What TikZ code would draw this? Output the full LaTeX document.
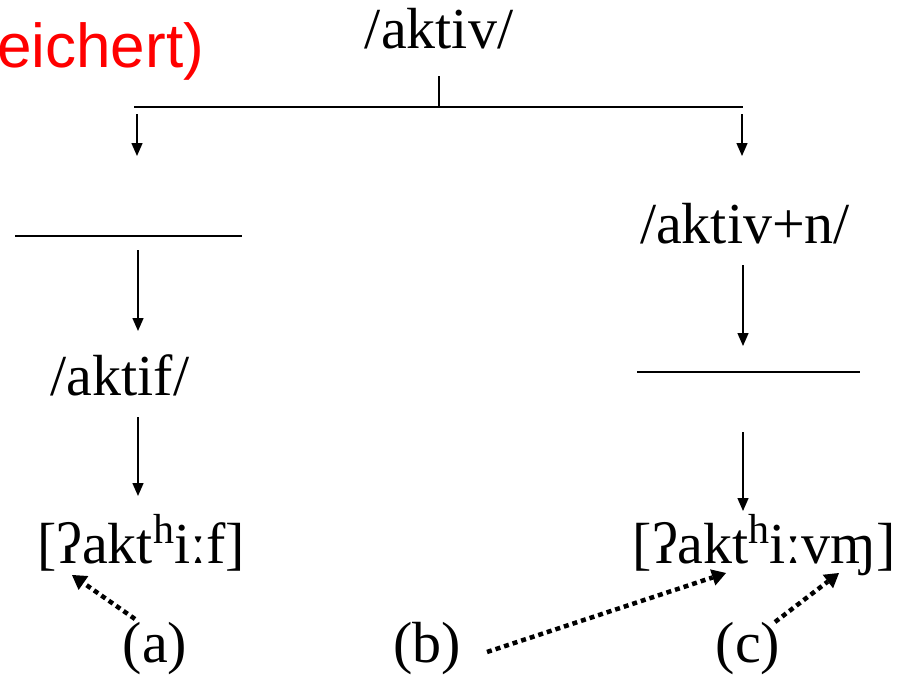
\documentclass[tikz,border=0pt]{standalone}
\usepackage{fontspec}
\setmainfont{Liberation Serif}
\newfontfamily\arialfont{Liberation Sans}
\usetikzlibrary{arrows.meta}
\definecolor{redtxt}{RGB}{255,0,0}
\newcommand{\asp}{\raisebox{0.34em}{\fontsize{42}{42}\selectfont h}}
\tikzset{
  lbl/.style={anchor=base, inner sep=0pt, font=\fontsize{58}{70}\selectfont},
  rline/.style={line width=2pt},
  darrow/.style={line width=1.4pt, -{Triangle[length=13pt,width=11pt]}},
  plainline/.style={line width=1.4pt},
  dotarrow/.style={line width=4.5pt, dash pattern=on 5pt off 4pt, -{Triangle[length=14pt,width=17pt,line width=0pt]}}
}
\begin{document}
\begin{tikzpicture}[x=1pt,y=-1pt]
\useasboundingbox (0,0) rectangle (912,680);
% red partial text
\node[anchor=base west, inner sep=0pt, text=redtxt, font=\arialfont\fontsize{62}{74}\selectfont] (red) at (-3,67) {eichert)};
% nodes
\node[lbl] (top) at (439,48) {/aktiv/};
\node[lbl] (aktif) at (120,395) {/aktif/};
\node[lbl] (aktivn) at (745,243) {/aktiv+n/};
\node[lbl] (surfL) at (141,563) {[ʔakt\asp iːf]};
\node[lbl] (surfR) at (764,563) {[ʔakt\asp iːvɱ]};
\node[lbl] (la) at (155,662) {(a)};
\node[lbl] (lb) at (427,662) {(b)};
\node[lbl] (lc) at (748,662) {(c)};
% tree
\coordinate (tickT) at (439,76);
\coordinate (tickB) at (439,107);
\coordinate (barL) at (134,107);
\coordinate (barR) at (743,107);
\draw[plainline] (tickT) -- (tickB);
\draw[rline] (barL) -- (barR);
\coordinate (a1s) at (137,114); \coordinate (a1e) at (137,156);
\coordinate (a2s) at (742,114); \coordinate (a2e) at (742,156);
\draw[darrow] (a1s) -- (a1e);
\draw[darrow] (a2s) -- (a2e);
% blank lines
\coordinate (bl1a) at (15,236); \coordinate (bl1b) at (242,236);
\draw[rline] (bl1a) -- (bl1b);
\coordinate (bl2a) at (637,372); \coordinate (bl2b) at (860,372);
\draw[rline] (bl2a) -- (bl2b);
% vertical arrows
\coordinate (l1s) at (138,250); \coordinate (l1e) at (138,331);
\draw[darrow] (l1s) -- (l1e);
\coordinate (l2s) at (138,417); \coordinate (l2e) at (138,496);
\draw[darrow] (l2s) -- (l2e);
\coordinate (r1s) at (743,265); \coordinate (r1e) at (743,346);
\draw[darrow] (r1s) -- (r1e);
\coordinate (r2s) at (743,432); \coordinate (r2e) at (743,511);
\draw[darrow] (r2s) -- (r2e);
% dotted arrows
\coordinate (da1) at (135,619); \coordinate (da2) at (72,575);
\draw[dotarrow] (da1) -- (da2);
\coordinate (db1) at (487,652); \coordinate (db2) at (726,573);
\draw[dotarrow] (db1) -- (db2);
\coordinate (dc1) at (775,622); \coordinate (dc2) at (839,573);
\draw[dotarrow] (dc1) -- (dc2);
\end{tikzpicture}
\end{document}
